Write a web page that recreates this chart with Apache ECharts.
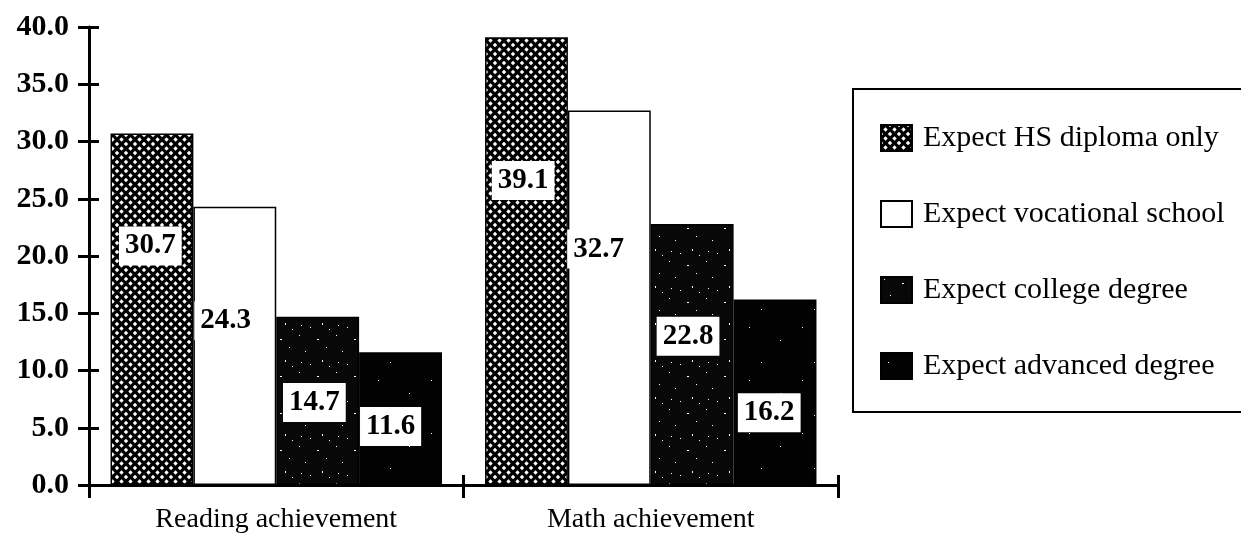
<!DOCTYPE html>
<html>
<head>
<meta charset="utf-8">
<script src="https://cdn.jsdelivr.net/npm/echarts@6/dist/echarts.min.js"></script>
<style>
html,body{margin:0;padding:0;background:#fff;}
#chart{width:1241px;height:547px;}
</style>
</head>
<body>
<div id="chart"></div>
<script>
// ---- data ----
const categories = ['Reading achievement', 'Math achievement'];
const seriesNames = ['Expect HS diploma only', 'Expect vocational school', 'Expect college degree', 'Expect advanced degree'];
const hsDiploma = [30.7, 39.1];
const vocational = [24.3, 32.7];
const college = [14.7, 22.8];
const advanced = [11.6, 16.2];
const yMin = 0, yMax = 40, yStep = 5;

// ---- layout / style (label placement within each bar, percent of bar rect) ----
const labelPlace = [
  [['48%', '32%'], ['46%', '32%']],
  [['39%', '41%'], ['37%', '37%']],
  [['46%', '51%'], ['45%', '43%']],
  [['38%', '56%'], ['43%', '61%']]
];

const FONT = "'Liberation Serif', 'Times New Roman', serif";

function makeCrosshatch() {
  const c = document.createElement('canvas');
  const s = 9;
  c.width = s; c.height = s;
  const g = c.getContext('2d');
  g.fillStyle = '#000'; g.fillRect(0, 0, s, s);
  g.fillStyle = '#fff';
  const d = 2.2;
  const diamond = (x, y) => {
    g.beginPath();
    g.moveTo(x, y - d); g.lineTo(x + d, y); g.lineTo(x, y + d); g.lineTo(x - d, y);
    g.closePath(); g.fill();
  };
  diamond(s / 2, s / 2);
  diamond(0, 0); diamond(s, 0); diamond(0, s); diamond(s, s);
  return c;
}
function makeSpeckle(size, dots, base) {
  const c = document.createElement('canvas');
  c.width = size; c.height = size;
  const g = c.getContext('2d');
  g.fillStyle = base; g.fillRect(0, 0, size, size);
  g.fillStyle = '#fff';
  dots.forEach(p => g.fillRect(p[0], p[1], p[2] || 1, p[3] || 1));
  return c;
}
const hsFill = { image: makeCrosshatch(), repeat: 'repeat' };
const colFill = { image: makeSpeckle(37, [[3,2],[21,6,2,1],[30,14],[9,18],[26,27,1,2],[14,31],[33,33],[5,29]], '#080808'), repeat: 'repeat' };
const advFill = { image: makeSpeckle(53, [[7,9],[38,22],[19,44]], '#020202'), repeat: 'repeat' };
const fills = [hsFill, '#ffffff', colFill, advFill];
const values = [hsDiploma, vocational, college, advanced];

const series = values.map((vals, si) => ({
  name: seriesNames[si],
  type: 'bar',
  barGap: '0%',
  barCategoryGap: '11.5%',
  itemStyle: { color: fills[si], borderColor: '#000', borderWidth: 1.5 },
  label: {
    show: true,
    align: 'center',
    verticalAlign: 'middle',
    fontFamily: FONT,
    fontSize: 29,
    fontWeight: 'bold',
    color: '#000',
    backgroundColor: '#fff',
    padding: [6, 6, 4, 6],
    formatter: p => p.value.toFixed(1)
  },
  data: vals.map((v, ci) => ({ value: v, label: { position: labelPlace[si][ci] } }))
}));

const chart = echarts.init(document.getElementById('chart'), null, { renderer: 'canvas' });
chart.setOption({
  animation: false,
  backgroundColor: '#fff',
  grid: { left: 89, right: 403, top: 27, bottom: 62, containLabel: false },
  legend: {
    orient: 'vertical',
    left: 853,
    top: 89,
    data: seriesNames,
    icon: 'rect',
    itemWidth: 31,
    itemHeight: 26,
    itemGap: 46,
    padding: [34, 40, 31, 27],
    borderColor: '#000',
    borderWidth: 2,
    textStyle: { fontFamily: FONT, fontSize: 30, color: '#000', lineHeight: 26, padding: [0, 0, 0, 6] }
  },
  xAxis: [
    {
      type: 'category',
      data: categories,
      axisLine: { show: true, lineStyle: { color: '#000', width: 3 } },
      axisTick: { show: true, length: 13, lineStyle: { color: '#000', width: 3 } },
      axisLabel: { fontFamily: FONT, fontSize: 28, color: '#000', margin: 21 }
    },
    {
      type: 'category',
      data: categories,
      position: 'bottom',
      offset: 0,
      axisLine: { show: false },
      axisTick: { show: true, inside: true, length: 10, lineStyle: { color: '#000', width: 3 } },
      axisLabel: { show: false }
    }
  ],
  yAxis: [
    {
      type: 'value',
      min: yMin, max: yMax, interval: yStep,
      splitLine: { show: false },
      axisLine: { show: true, lineStyle: { color: '#000', width: 3 } },
      axisTick: { show: true, length: 11, lineStyle: { color: '#000', width: 3 } },
      axisLabel: { fontFamily: FONT, fontSize: 30, fontWeight: 'bold', color: '#000', margin: 20, formatter: v => v.toFixed(1) }
    },
    {
      type: 'value',
      min: yMin, max: yMax, interval: yStep,
      position: 'left',
      offset: 0,
      splitLine: { show: false },
      axisLine: { show: false },
      axisTick: { show: true, inside: true, length: 10, lineStyle: { color: '#000', width: 3 } },
      axisLabel: { show: false }
    }
  ],
  series: series
});
</script>
</body>
</html>
